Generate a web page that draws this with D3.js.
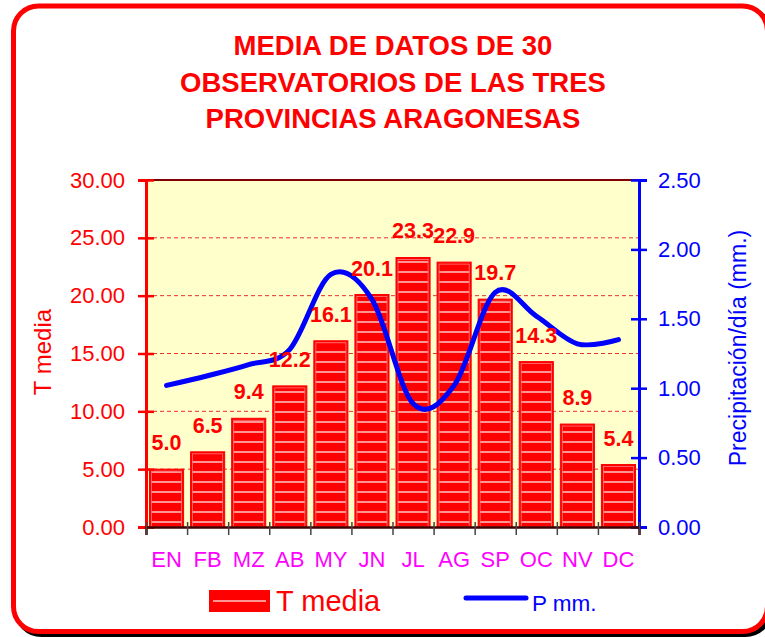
<!DOCTYPE html>
<html>
<head>
<meta charset="utf-8">
<script src="https://cdn.jsdelivr.net/npm/d3@7"></script>
<style>
  body { margin: 0; background: #fff; }
  text { font-family: "Liberation Sans", Arial, sans-serif; }
</style>
</head>
<body>
<div id="chart"></div>
<script>
// Chart data
var months = ["EN", "FB", "MZ", "AB", "MY", "JN", "JL", "AG", "SP", "OC", "NV", "DC"];
var tMedia = [5.0, 6.5, 9.4, 12.2, 16.1, 20.1, 23.3, 22.9, 19.7, 14.3, 8.9, 5.4];
var pMM = [1.02, 1.09, 1.17, 1.28, 1.82, 1.64, 0.89, 1.02, 1.69, 1.52, 1.32, 1.35];
var leftTicks = [0, 5, 10, 15, 20, 25, 30];
var rightTicks = [0, 0.5, 1, 1.5, 2, 2.5];
var titleLines = ["MEDIA DE DATOS DE 30", "OBSERVATORIOS DE LAS TRES", "PROVINCIAS ARAGONESAS"];

var svgWidth = 765;
var svgHeight = 637;
var plot = { left: 146, right: 639, top: 180, bottom: 527 };

var svg = d3.select("#chart")
  .append("svg")
  .attr("width", svgWidth)
  .attr("height", svgHeight);

// stripes for the bars
var defs = svg.append("defs");
var pat = defs.append("pattern")
  .attr("id", "stripes")
  .attr("patternUnits", "userSpaceOnUse")
  .attr("width", 10)
  .attr("height", 10);
pat.append("rect").attr("width", 10).attr("height", 10).attr("fill", "#ff0000");
pat.append("rect").attr("y", 1).attr("width", 10).attr("height", 2).attr("fill", "#ff9494");

// frame with shadow
svg.append("rect")
  .attr("x", 16.5).attr("y", 9)
  .attr("width", 754).attr("height", 625.5)
  .attr("rx", 25)
  .attr("fill", "none").attr("stroke", "#000").attr("stroke-width", 5);
svg.append("rect")
  .attr("x", 13.5).attr("y", 6)
  .attr("width", 754).attr("height", 625.5)
  .attr("rx", 25)
  .attr("fill", "#fff").attr("stroke", "#ff0000").attr("stroke-width", 5);

// title
svg.append("g").selectAll("text").data(titleLines).enter().append("text")
  .attr("x", 393)
  .attr("y", (d, i) => 55 + i * 36.5)
  .attr("text-anchor", "middle")
  .attr("font-size", "27.5px")
  .attr("font-weight", "bold")
  .attr("fill", "#ff0000")
  .text(d => d);

// scales
var x = d3.scaleBand()
  .domain(months)
  .range([plot.left, plot.right])
  .paddingInner(0.17)
  .paddingOuter(0.085);

var xEdges = d3.scaleLinear().domain([0, 12]).range([plot.left, plot.right]);

var yLeft = d3.scaleLinear().domain([0, 30]).range([plot.bottom, plot.top]);
var yRight = d3.scaleLinear().domain([0, 2.5]).range([plot.bottom, plot.top]);

// plot background
svg.append("rect")
  .attr("x", plot.left).attr("y", plot.top)
  .attr("width", plot.right - plot.left).attr("height", plot.bottom - plot.top)
  .attr("fill", "#ffffcc");

// gridlines
svg.append("g").selectAll("line")
  .data(leftTicks.filter(d => d > 0 && d < 30))
  .enter().append("line")
  .attr("x1", plot.left).attr("x2", plot.right)
  .attr("y1", d => yLeft(d)).attr("y2", d => yLeft(d))
  .attr("stroke", "#e83030")
  .attr("stroke-width", 1)
  .attr("stroke-dasharray", "4,3");

// top border of plot
svg.append("line")
  .attr("x1", plot.left).attr("x2", plot.right)
  .attr("y1", plot.top).attr("y2", plot.top)
  .attr("stroke", "#800000").attr("stroke-width", 2);

// bars
var bars = svg.append("g");
bars.selectAll("rect.outer").data(tMedia).enter().append("rect")
  .attr("class", "outer")
  .attr("x", (d, i) => x(months[i]))
  .attr("y", d => yLeft(d))
  .attr("width", x.bandwidth())
  .attr("height", d => yLeft(0) - yLeft(d))
  .attr("fill", "#ff0000")
  .attr("stroke", "#ff0000")
  .attr("stroke-width", 1);
bars.selectAll("rect.inner").data(tMedia).enter().append("rect")
  .attr("class", "inner")
  .attr("x", (d, i) => x(months[i]) + 2)
  .attr("y", d => yLeft(d) + 2)
  .attr("width", x.bandwidth() - 4)
  .attr("height", d => yLeft(0) - yLeft(d) - 2)
  .attr("fill", "url(#stripes)")
  .attr("stroke", "#ff7a7a")
  .attr("stroke-width", 0.8);

// precipitation line
var line = d3.line()
  .x((d, i) => x(months[i]) + x.bandwidth() / 2)
  .y(d => yRight(d))
  .curve(d3.curveCatmullRom.alpha(0));

svg.append("path")
  .datum(pMM)
  .attr("d", line)
  .attr("fill", "none")
  .attr("stroke", "#0000ff")
  .attr("stroke-width", 5)
  .attr("stroke-linecap", "round");

// data labels
svg.append("g").selectAll("text").data(tMedia).enter().append("text")
  .attr("x", (d, i) => x(months[i]) + x.bandwidth() / 2)
  .attr("y", d => yLeft(d) - 19)
  .attr("text-anchor", "middle")
  .attr("font-size", "21.5px")
  .attr("font-weight", "bold")
  .attr("fill", "#ff0000")
  .text(d => d.toFixed(1));

// left axis
var leftAxis = d3.axisLeft(yLeft)
  .tickValues(leftTicks)
  .tickFormat(d3.format(".2f"))
  .tickSize(8)
  .tickPadding(13);
var gLeft = svg.append("g")
  .attr("transform", `translate(${plot.left},0)`)
  .call(leftAxis);
gLeft.select(".domain").attr("stroke", "#ff0000").attr("stroke-width", 3);
gLeft.selectAll(".tick line").attr("stroke", "#ff0000").attr("stroke-width", 2.5).attr("x2", 8).attr("x1", -8);
gLeft.selectAll(".tick text").attr("fill", "#ff0000").attr("font-size", "22px")
  .attr("font-family", "Liberation Sans, Arial, sans-serif");

// right axis
var rightAxis = d3.axisRight(yRight)
  .tickValues(rightTicks)
  .tickFormat(d3.format(".2f"))
  .tickSize(8)
  .tickPadding(11);
var gRight = svg.append("g")
  .attr("transform", `translate(${plot.right},0)`)
  .call(rightAxis);
gRight.select(".domain").attr("stroke", "#0000ff").attr("stroke-width", 3);
gRight.selectAll(".tick line").attr("stroke", "#0000ff").attr("stroke-width", 2.5).attr("x1", -8).attr("x2", 8);
gRight.selectAll(".tick text").attr("fill", "#0000ff").attr("font-size", "22px")
  .attr("font-family", "Liberation Sans, Arial, sans-serif");

// bottom axis: tick marks at category edges
var edgeAxis = d3.axisBottom(xEdges)
  .tickValues(d3.range(0, 13))
  .tickFormat("")
  .tickSize(8);
var gEdges = svg.append("g")
  .attr("transform", `translate(0,${plot.bottom})`)
  .call(edgeAxis);
gEdges.select(".domain").attr("stroke", "#400000").attr("stroke-width", 2.5);
gEdges.selectAll(".tick line").attr("stroke", "#444").attr("stroke-width", 1.5).attr("y1", -5);

// month labels
var bottomAxis = d3.axisBottom(x).tickSize(0).tickPadding(24);
var gBottom = svg.append("g")
  .attr("transform", `translate(0,${plot.bottom})`)
  .call(bottomAxis);
gBottom.select(".domain").remove();
gBottom.selectAll(".tick text").attr("fill", "#ff00ff").attr("font-size", "22px")
  .attr("font-family", "Liberation Sans, Arial, sans-serif");

// axis titles
svg.append("text")
  .attr("transform", "translate(51,352) rotate(-90)")
  .attr("text-anchor", "middle")
  .attr("font-size", "24px")
  .attr("fill", "#ff0000")
  .text("T media");

svg.append("text")
  .attr("transform", "translate(746,348) rotate(-90)")
  .attr("text-anchor", "middle")
  .attr("font-size", "23px")
  .attr("fill", "#0000ff")
  .text("Precipitación/día (mm.)");

// legend
var legend = svg.append("g");
legend.append("rect")
  .attr("x", 209).attr("y", 590).attr("width", 61).attr("height", 22)
  .attr("fill", "#ff0000");
legend.append("rect")
  .attr("x", 213).attr("y", 600).attr("width", 53).attr("height", 2)
  .attr("fill", "#ff9494");
legend.append("text")
  .attr("x", 276).attr("y", 611)
  .attr("font-size", "29px")
  .attr("fill", "#ff0000")
  .text("T media");
legend.append("line")
  .attr("x1", 466).attr("x2", 526).attr("y1", 598).attr("y2", 598)
  .attr("stroke", "#0000ff").attr("stroke-width", 5).attr("stroke-linecap", "round");
legend.append("text")
  .attr("x", 532).attr("y", 611)
  .attr("font-size", "22.5px")
  .attr("fill", "#0000ff")
  .text("P mm.");
</script>
</body>
</html>
